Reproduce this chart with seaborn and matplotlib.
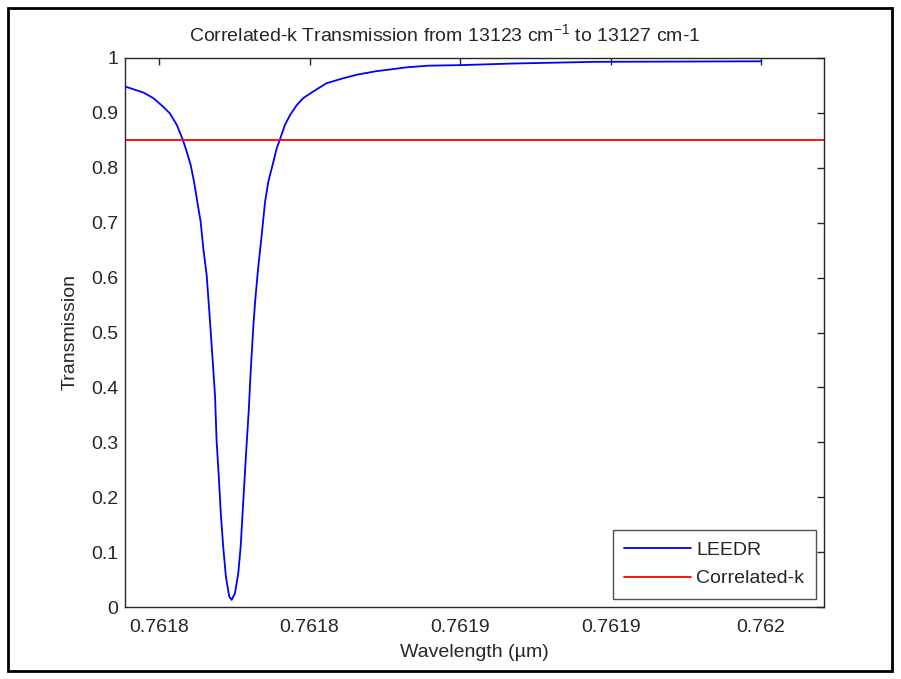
import matplotlib
matplotlib.use("Agg")
import matplotlib.pyplot as plt
import seaborn as sns
import pandas as pd
from matplotlib.patches import Rectangle

# LEEDR transmission curve (wavelength in micrometres, transmission)
wavelength_um = [
    0.7617887, 0.7617893, 0.7617948, 0.7617981, 0.7618014, 0.7618036, 0.7618059,
    0.7618079, 0.7618092, 0.7618105, 0.7618116, 0.7618127, 0.7618138, 0.7618147,
    0.7618158, 0.7618167, 0.7618178, 0.7618186, 0.7618191, 0.7618199, 0.7618205,
    0.7618213, 0.7618222, 0.7618233, 0.7618241, 0.7618252, 0.7618263, 0.7618271,
    0.7618280, 0.7618289, 0.7618298, 0.7618304, 0.7618313, 0.7618319, 0.7618329,
    0.7618341, 0.7618352, 0.7618363, 0.7618377, 0.7618391, 0.7618401, 0.7618418,
    0.7618435, 0.7618457, 0.7618479, 0.7618512, 0.7618556, 0.7618611, 0.7618661,
    0.7618722, 0.7618766, 0.7618822, 0.7618894, 0.7618999, 0.7619181, 0.7619447,
    0.7620001,
]
leedr_trans = [
    0.948, 0.947, 0.937, 0.927, 0.911, 0.899, 0.878,
    0.851, 0.829, 0.805, 0.775, 0.738, 0.702, 0.653,
    0.605, 0.537, 0.450, 0.383, 0.304, 0.231, 0.171,
    0.110, 0.055, 0.019, 0.013, 0.025, 0.061, 0.110,
    0.195, 0.280, 0.359, 0.426, 0.510, 0.556, 0.617,
    0.678, 0.738, 0.775, 0.805, 0.836, 0.851, 0.878,
    0.896, 0.914, 0.927, 0.939, 0.954, 0.963, 0.970,
    0.976, 0.979, 0.983, 0.986, 0.987, 0.990, 0.993,
    0.994,
]

# Correlated-k constant transmission over the band 13127 -> 13123 cm-1
ck_wavelength_um = [1e4 / 13127.0, 1e4 / 13123.0]
ck_trans = [0.85, 0.85]

x_ticks = [0.76180, 0.76185, 0.76190, 0.76195, 0.76200]
x_tick_labels = ["0.7618", "0.7618", "0.7619", "0.7619", "0.762"]
y_ticks = [0, 0.1, 0.2, 0.3, 0.4, 0.5, 0.6, 0.7, 0.8, 0.9, 1.0]
y_tick_labels = ["0", "0.1", "0.2", "0.3", "0.4", "0.5", "0.6", "0.7", "0.8", "0.9", "1"]

sns.set_theme(style="white")
plt.rcParams["font.family"] = ["Liberation Sans", "DejaVu Sans"]
plt.rcParams["mathtext.default"] = "regular"

fig = plt.figure(figsize=(9.01, 6.79), dpi=100)
ax = fig.add_axes([125 / 901, 72 / 679, 699 / 901, 549 / 679])

df_leedr = pd.DataFrame({"w": wavelength_um, "t": leedr_trans})
df_ck = pd.DataFrame({"w": ck_wavelength_um, "t": ck_trans})
sns.lineplot(data=df_leedr, x="w", y="t", ax=ax, color="#0000ff", lw=1.3,
             label="LEEDR", sort=False, estimator=None)
sns.lineplot(data=df_ck, x="w", y="t", ax=ax, color="#ff0000", lw=1.3,
             label="Correlated-k", sort=False, estimator=None)

ax.set_xlim(ck_wavelength_um[0], ck_wavelength_um[1])
ax.set_ylim(0, 1)
ax.set_xticks(x_ticks)
ax.set_xticklabels(x_tick_labels)
ax.set_yticks(y_ticks)
ax.set_yticklabels(y_tick_labels)

fs = 14
ax.tick_params(direction="in", length=5, width=1, colors="#262626",
               top=True, right=True, labelsize=fs, labelcolor="#262626")
ax.tick_params(axis="x", pad=8.5)
ax.tick_params(axis="y", pad=5)
for sp in ax.spines.values():
    sp.set_color("#262626")
    sp.set_linewidth(1.0)
    sp.set_visible(True)

ax.set_xlabel("Wavelength (\u00b5m)", fontsize=fs, color="#262626", labelpad=6)
ax.set_ylabel("Transmission", fontsize=fs, color="#262626", labelpad=9)
ax.set_title("Correlated-k Transmission from 13123 cm$^{-1}$ to 13127 cm-1",
             fontsize=fs, color="#262626", pad=12.5, x=(445 - 125) / 699)

leg = ax.legend(loc="lower right", bbox_to_anchor=(816 / 901, 80 / 679),
                bbox_transform=fig.transFigure, borderaxespad=0, fontsize=fs,
                frameon=True, fancybox=False, handlelength=3.4, handletextpad=0.3,
                borderpad=0.6, labelspacing=0.55)
leg.get_frame().set_edgecolor("#262626")
leg.get_frame().set_linewidth(1.0)
for t in leg.get_texts():
    t.set_color("#262626")

fig.patches.append(Rectangle((8 / 901, 8 / 679), 884 / 901, 663 / 679,
                             transform=fig.transFigure, fill=False,
                             edgecolor="black", linewidth=2))

fig.savefig("out.png", dpi=100)
